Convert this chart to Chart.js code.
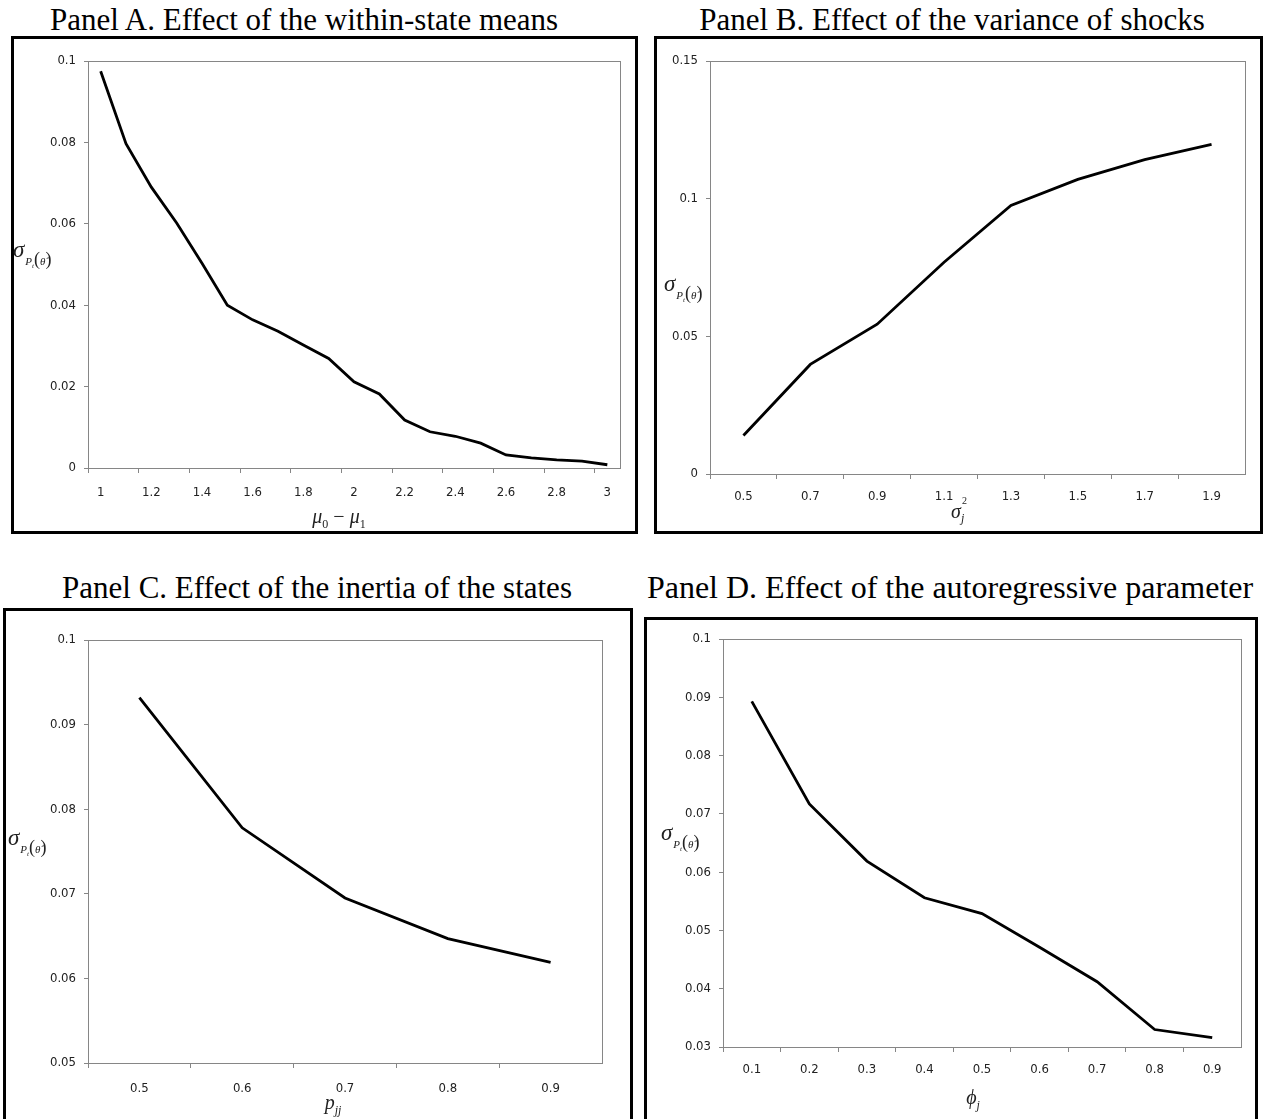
<!DOCTYPE html>
<html>
<head>
<meta charset="utf-8">
<script src="https://cdn.jsdelivr.net/npm/chart.js@4.4.1/dist/chart.umd.min.js"></script>
<style>
  html, body { margin:0; padding:0; background:#fff; }
  body { width:1274px; height:1119px; position:relative; overflow:hidden; }
  .ptitle { position:absolute; font-family:'Liberation Serif','Times New Roman',serif; font-size:31px; color:#000; white-space:nowrap; transform:translate(-50%,-50%); line-height:1; }
  .box { position:absolute; border:3px solid #000; box-sizing:border-box; pointer-events:none; }
  canvas.cv { position:absolute; }
  .yt { position:absolute; font-family:'Liberation Serif','Times New Roman',serif; white-space:nowrap; line-height:1; color:#222; }
  .yt .sig { font-style:italic; font-size:23px; }
  .yt .ysub { position:relative; top:8px; margin-left:1px; }
  .yt .P { font-style:italic; font-size:11px; }
  .yt .t { font-size:7px; position:relative; top:3px; }
  .yt .par { font-size:18px; }
  .yt .th { font-style:italic; font-size:11px; }
  .xt { position:absolute; font-family:'Liberation Serif','Times New Roman',serif; font-size:20px; white-space:nowrap; transform:translate(-50%,-50%); line-height:1; color:#222; }
  .xt sub { font-size:12px; vertical-align:-5px; }
  .xt .stack { display:inline-block; position:relative; width:8px; height:12px; }
  .xt .stack .s2 { position:absolute; left:1px; top:-10px; font-size:10px; }
  .xt .stack .sj { position:absolute; left:0px; top:6px; font-size:12px; font-style:italic; }
</style>
</head>
<body>

<div class="ptitle" style="left:304px;top:19px">Panel A. Effect of the within-state means</div>
<div class="ptitle" style="left:952px;top:19px">Panel B. Effect of the variance of shocks</div>
<div class="ptitle" style="left:317px;top:587px">Panel C. Effect of the inertia of the states</div>
<div class="ptitle" style="left:950px;top:587px;font-size:32px">Panel D. Effect of the autoregressive parameter</div>

<canvas id="cA" class="cv"></canvas>
<canvas id="cB" class="cv"></canvas>
<canvas id="cC" class="cv"></canvas>
<canvas id="cD" class="cv"></canvas>

<div id="bA" class="box"></div>
<div id="bB" class="box"></div>
<div id="bC" class="box"></div>
<div id="bD" class="box"></div>

<div class="yt" style="left:13px;top:238px"><span class="sig">σ</span><span class="ysub"><span class="P">P<span class="t">t</span></span><span class="par">(</span><span class="th">θ̂</span><span class="par">)</span></span></div>
<div class="yt" style="left:664px;top:272px"><span class="sig">σ</span><span class="ysub"><span class="P">P<span class="t">t</span></span><span class="par">(</span><span class="th">θ̂</span><span class="par">)</span></span></div>
<div class="yt" style="left:8px;top:826px"><span class="sig">σ</span><span class="ysub"><span class="P">P<span class="t">t</span></span><span class="par">(</span><span class="th">θ̂</span><span class="par">)</span></span></div>
<div class="yt" style="left:661px;top:821px"><span class="sig">σ</span><span class="ysub"><span class="P">P<span class="t">t</span></span><span class="par">(</span><span class="th">θ̂</span><span class="par">)</span></span></div>

<div class="xt" style="left:339px;top:518px"><i>μ</i><sub>0</sub> − <i>μ</i><sub>1</sub></div>
<div class="xt" style="left:960px;top:511px"><i>σ</i><span class="stack"><span class="s2">2</span><span class="sj">j</span></span></div>
<div class="xt" style="left:333px;top:1104px"><i>p</i><sub><i>jj</i></sub></div>
<div class="xt" style="left:973px;top:1099px"><i>ϕ</i><sub><i>j</i></sub></div>

<script>
// ---------- DATA ----------
const catsA = ['1','1.1','1.2','1.3','1.4','1.5','1.6','1.7','1.8','1.9','2','2.1','2.2','2.3','2.4','2.5','2.6','2.7','2.8','2.9','3'];
const valsA = [0.0975,0.0797,0.0690,0.0602,0.0503,0.0400,0.0364,0.0336,0.0302,0.0269,0.0212,0.0182,0.0118,0.0089,0.0078,0.0061,0.0032,0.0025,0.0020,0.0017,0.0008];
const yTicksA = [0,0.02,0.04,0.06,0.08,0.1];

const catsB = ['0.5','0.7','0.9','1.1','1.3','1.5','1.7','1.9'];
const valsB = [0.0140,0.0398,0.0544,0.0769,0.0975,0.1070,0.1142,0.1197];
const yTicksB = [0,0.05,0.1,0.15];

const catsC = ['0.5','0.6','0.7','0.8','0.9'];
const valsC = [0.0932,0.0778,0.0695,0.0647,0.0619];
const yTicksC = [0.05,0.06,0.07,0.08,0.09,0.1];

const catsD = ['0.1','0.2','0.3','0.4','0.5','0.6','0.7','0.8','0.9'];
const valsD = [0.0893,0.0717,0.0619,0.0556,0.0529,0.0471,0.0412,0.0330,0.0316];
const yTicksD = [0.03,0.04,0.05,0.06,0.07,0.08,0.09,0.1];

// ---------- LAYOUT (page pixels) ----------
const geom = {
  A: { box:{l:11, t:36, r:638, b:534},   plot:{l:88, t:61, r:620, b:468},  xpad:12 },
  B: { box:{l:654, t:36, r:1263, b:534}, plot:{l:710, t:61, r:1245, b:474}, xpad:10 },
  C: { box:{l:3, t:608, r:633, b:1130},  plot:{l:88, t:640, r:602, b:1063}, xpad:13 },
  D: { box:{l:644, t:617, r:1258, b:1130}, plot:{l:723, t:639, r:1241, b:1047}, xpad:10 }
};

const AXIS = '#868686';
const TICKFONT = { family: "'Liberation Sans Narrow','Arial Narrow','DejaVu Sans Condensed',sans-serif", size: 13 };

const plotBorder = {
  id: 'plotBorder',
  beforeDatasetsDraw(chart) {
    const {ctx, chartArea:a} = chart;
    ctx.save();
    ctx.strokeStyle = AXIS;
    ctx.lineWidth = 1;
    ctx.strokeRect(Math.round(a.left)+0.5, Math.round(a.top)+0.5, Math.round(a.right-a.left), Math.round(a.bottom-a.top));
    ctx.restore();
  }
};

function fmt(v) { return String(+(+v).toFixed(4)); }

function make(key, cats, vals, yTicks, labelEvery) {
  const g = geom[key];
  const cv = document.getElementById('c' + key);
  const W = g.box.r - g.box.l, H = g.box.b - g.box.t;
  cv.width = W; cv.height = H;
  cv.style.left = g.box.l + 'px'; cv.style.top = g.box.t + 'px';
  cv.style.width = W + 'px'; cv.style.height = H + 'px';
  const bx = document.getElementById('b' + key);
  bx.style.left = g.box.l + 'px'; bx.style.top = g.box.t + 'px';
  bx.style.width = W + 'px'; bx.style.height = H + 'px';
  const n = cats.length;
  new Chart(cv, {
    type: 'line',
    data: { labels: cats, datasets: [{ data: vals, borderColor:'#000', borderWidth:2.8, pointRadius:0, tension:0, fill:false }] },
    options: {
      responsive:false, animation:false, devicePixelRatio:1,
      layout: { padding: { left:0, top:g.plot.t - g.box.t, right:g.box.r - g.plot.r, bottom:0 } },
      plugins: { legend:{display:false}, tooltip:{enabled:false}, title:{display:false} },
      scales: {
        x: {
          type:'category', offset:true,
          grid: { offset:true, drawOnChartArea:false, drawTicks:true, tickLength:5, lineWidth:1,
                  color: (c) => ((c.index % labelEvery === 0) || c.index === n) ? AXIS : 'rgba(0,0,0,0)' },
          border: { color:AXIS, width:1 },
          ticks: { color:'#222', font:TICKFONT, padding:g.xpad, maxRotation:0, autoSkip:false,
                   callback: function(v, i) { return (i % labelEvery === 0) ? this.getLabelForValue(v) : ''; } },
          afterFit: (s) => { s.height = g.box.b - g.plot.b; }
        },
        y: {
          type:'linear', min:yTicks[0], max:yTicks[yTicks.length-1],
          afterBuildTicks: (s) => { s.ticks = yTicks.map(v => ({value:v})); },
          grid: { drawOnChartArea:false, drawTicks:true, tickLength:4, color:AXIS, lineWidth:1 },
          border: { color:AXIS, width:1 },
          ticks: { color:'#222', font:TICKFONT, padding:8, callback: (v) => fmt(v) },
          afterFit: (s) => { s.width = g.plot.l - g.box.l; }
        }
      }
    },
    plugins: [plotBorder]
  });
}

make('A', catsA, valsA, yTicksA, 2);
make('B', catsB, valsB, yTicksB, 1);
make('C', catsC, valsC, yTicksC, 1);
make('D', catsD, valsD, yTicksD, 1);
</script>
</body>
</html>
